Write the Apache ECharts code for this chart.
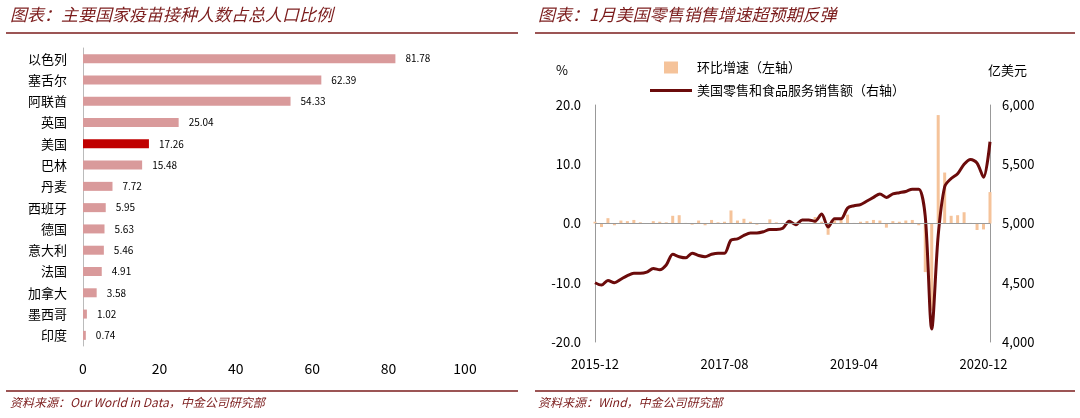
<!DOCTYPE html>
<html>
<head>
<meta charset="utf-8">
<title>疫苗与零售</title>
<script src="https://cdn.jsdelivr.net/npm/echarts@6/dist/echarts.min.js"></script>
<style>body{margin:0;background:#fff}</style>
</head>
<body>
<div id="main" style="width:1080px;height:418px;"></div>
<script>
// 左图：疫苗接种比例
var countries = ['以色列','塞舌尔','阿联酋','英国','美国','巴林','丹麦','西班牙','德国','意大利','法国','加拿大','墨西哥','印度'];
var vaccRatio = [81.78,62.39,54.33,25.04,17.26,15.48,7.72,5.95,5.63,5.46,4.91,3.58,1.02,0.74];

// 右图：美国零售，2015-12 到 2021-01
var months = [];
for (var i = 0; i < 62; i++) {
  var y = 2015 + Math.floor((11 + i) / 12), m = (11 + i) % 12 + 1;
  months.push(y + '-' + (m < 10 ? '0' + m : m));
}
var momGrowth = [
  0.3,-0.6,0.9,-0.3,0.5,0.4,0.6,0.2,0.0,0.4,0.3,0.2,
  1.3,1.4,0.1,-0.2,0.5,-0.3,0.6,0.2,0.3,2.2,0.5,0.8,
  0.3,-0.2,0.0,0.7,0.2,0.1,0.6,0.2,0.1,0.1,1.1,0.3,
  -1.9,0.5,0.6,1.5,0.1,0.3,0.4,0.6,0.5,-0.7,0.4,0.3,
  0.5,0.6,-0.3,-8.2,-14.7,18.3,8.6,1.3,1.4,1.9,0.1,-1.1,
  -1.0,5.3
];
var retailSales = [
  4500,4480,4520,4500,4530,4560,4580,4580,4590,4620,4610,4650,
  4740,4720,4710,4750,4730,4720,4740,4750,4750,4860,4870,4900,
  4920,4920,4930,4950,4950,4960,5020,4990,5030,5030,5020,5080,
  4970,5040,5040,5130,5150,5160,5190,5220,5250,5220,5250,5260,
  5270,5290,5290,5060,4110,4900,5310,5380,5420,5500,5540,5510,
  5390,5690
];

var titleColor = '#7b1c1c';
var myChart = echarts.init(document.getElementById('main'));
var option = {
  textStyle: {fontFamily: 'Noto Sans CJK SC'},
  graphic: [
    {type:'text', left:10, top:6, style:{text:'图表：主要国家疫苗接种人数占总人口比例', font:'italic 17px "Noto Sans CJK SC"', fill:titleColor}},
    {type:'text', left:538, top:6, style:{text:'图表：1月美国零售销售增速超预期反弹', font:'italic 17px "Noto Sans CJK SC"', fill:titleColor}},
    {type:'line', shape:{x1:6,y1:33,x2:518,y2:33}, style:{stroke:titleColor,lineWidth:1.5}},
    {type:'line', shape:{x1:535,y1:33,x2:1075,y2:33}, style:{stroke:titleColor,lineWidth:1.5}},
    {type:'line', shape:{x1:6,y1:391,x2:518,y2:391}, style:{stroke:titleColor,lineWidth:1.5}},
    {type:'line', shape:{x1:535,y1:391,x2:1075,y2:391}, style:{stroke:titleColor,lineWidth:1.5}},
    {type:'text', left:10, top:396, style:{text:'资料来源：Our World in Data，中金公司研究部', font:'italic 12px "Noto Sans CJK SC"', fill:titleColor}},
    {type:'text', left:538, top:396, style:{text:'资料来源：Wind，中金公司研究部', font:'italic 12px "Noto Sans CJK SC"', fill:titleColor}},
    {type:'text', left:556, top:64, style:{text:'%', font:'13px "Noto Sans CJK SC"', fill:'#000'}},
    {type:'text', left:988, top:64, style:{text:'亿美元', font:'13px "Noto Sans CJK SC"', fill:'#000'}}
  ],
  legend: {
    data: [
      {name:'环比增速（左轴）', icon:'path://M14,0L28,0L28,12L14,12Z'},
      {name:'美国零售和食品服务销售额（右轴）', icon:'path://M0,0L42,0L42,3L0,3Z'}
    ],
    orient: 'vertical', left: 645, top: 56, itemGap: 10, itemWidth: 42, itemHeight: 12,
    textStyle: {fontSize: 13, color: '#000'}
  },
  grid: [
    {left: 83, right: 615, top: 48, bottom: 72},
    {left: 595, right: 90, top: 105, bottom: 76}
  ],
  xAxis: [
    {gridIndex:0, type:'value', min:0, max:100, interval:20,
     axisLine:{show:false}, axisTick:{show:false}, splitLine:{show:false},
     axisLabel:{fontSize:14, color:'#000', margin:16}},
    {gridIndex:1, type:'category', data:months, boundaryGap:false,
     axisLine:{show:false}, axisTick:{show:false},
     axisLabel:{interval:19, fontSize:13, color:'#000', margin:16}}
  ],
  yAxis: [
    {gridIndex:0, type:'category', data:countries, inverse:true,
     axisLine:{lineStyle:{color:'#bbb'}}, axisTick:{show:false},
     axisLabel:{fontSize:13, color:'#000', margin:16}},
    {gridIndex:1, type:'value', min:-20, max:20, interval:10,
     axisLine:{show:true, lineStyle:{color:'#999'}}, axisTick:{show:false}, splitLine:{show:false},
     axisLabel:{fontSize:13, color:'#000', margin:14, formatter: function(v){return v.toFixed(1);}}},
    {gridIndex:1, type:'value', min:4000, max:6000, interval:500, position:'right',
     axisLine:{show:true, lineStyle:{color:'#999'}}, axisTick:{show:false}, splitLine:{show:false},
     axisLabel:{fontSize:13, color:'#000', margin:12, formatter: function(v){return v.toLocaleString('en-US');}}}
  ],
  series: [
    {type:'bar', xAxisIndex:0, yAxisIndex:0, barWidth:9,
     data: vaccRatio.map(function(v, i){ return {value:v, itemStyle:{color: countries[i]==='美国' ? '#c00000' : '#d99a9b'}}; }),
     label:{show:true, position:'right', fontSize:10, color:'#000', distance:10}},
    {name:'环比增速（左轴）', type:'bar', xAxisIndex:1, yAxisIndex:1, data:momGrowth, barWidth:3,
     itemStyle:{color:'#f5c39a'},
     markLine:{symbol:'none', silent:true, label:{show:false}, lineStyle:{color:'#999', type:'solid', width:1}, data:[{yAxis:0}]}},
    {name:'美国零售和食品服务销售额（右轴）', type:'line', xAxisIndex:1, yAxisIndex:2, data:retailSales,
     smooth:0.3, symbol:'none', lineStyle:{color:'#6b0b0b', width:3}, itemStyle:{color:'#6b0b0b'}}
  ]
};
myChart.setOption(option);
</script>
</body>
</html>
